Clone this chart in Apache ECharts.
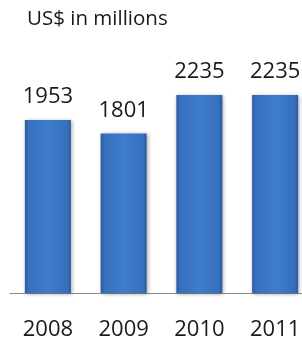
<!DOCTYPE html>
<html>
<head>
<meta charset="utf-8">
<script src="https://cdn.jsdelivr.net/npm/echarts@6/dist/echarts.min.js"></script>
<style>
html,body{margin:0;padding:0;background:#fff;overflow:hidden;}
#c{width:314px;height:342px;}
</style>
</head>
<body>
<div id="c"></div>
<script>
var titleText = "US$ in millions";
var years = ["2008", "2009", "2010", "2011"];
var values = [1953, 1801, 2235, 2235];

var chart = echarts.init(document.getElementById('c'), null, {renderer: 'canvas'});
var fontFam = '"Open Sans", "Noto Sans", sans-serif';
chart.setOption({
  animation: false,
  backgroundColor: '#ffffff',
  title: {
    text: titleText,
    left: 22,
    top: 4,
    textStyle: {fontFamily: fontFam, fontSize: 20.5, fontWeight: 'normal', color: '#1a1a1a'}
  },
  grid: {left: 10, right: 1, top: 71.5, bottom: 49},
  xAxis: {
    type: 'category',
    data: years,
    axisLine: {lineStyle: {color: '#8c8c8c', width: 1}},
    axisTick: {show: false},
    axisLabel: {fontFamily: fontFam, fontSize: 22, color: '#1a1a1a', margin: 26}
  },
  yAxis: {
    type: 'value',
    min: 0,
    max: 2500,
    show: false,
    splitLine: {show: false}
  },
  series: [{
    type: 'bar',
    data: values,
    barWidth: 46,
    itemStyle: {
      color: new echarts.graphic.LinearGradient(0, 0, 1, 0, [
        {offset: 0, color: '#2a5a9e'},
        {offset: 0.08, color: '#3670bd'},
        {offset: 0.5, color: '#3e7ccd'},
        {offset: 0.92, color: '#3670bd'},
        {offset: 1, color: '#2a5a9e'}
      ]),
      shadowColor: 'rgba(0,0,0,0.35)',
      shadowBlur: 4,
      shadowOffsetX: 1,
      shadowOffsetY: 1
    },
    label: {
      show: true,
      position: 'top',
      distance: 12,
      fontFamily: fontFam,
      fontSize: 22,
      color: '#1a1a1a'
    }
  }]
});
</script>
</body>
</html>
